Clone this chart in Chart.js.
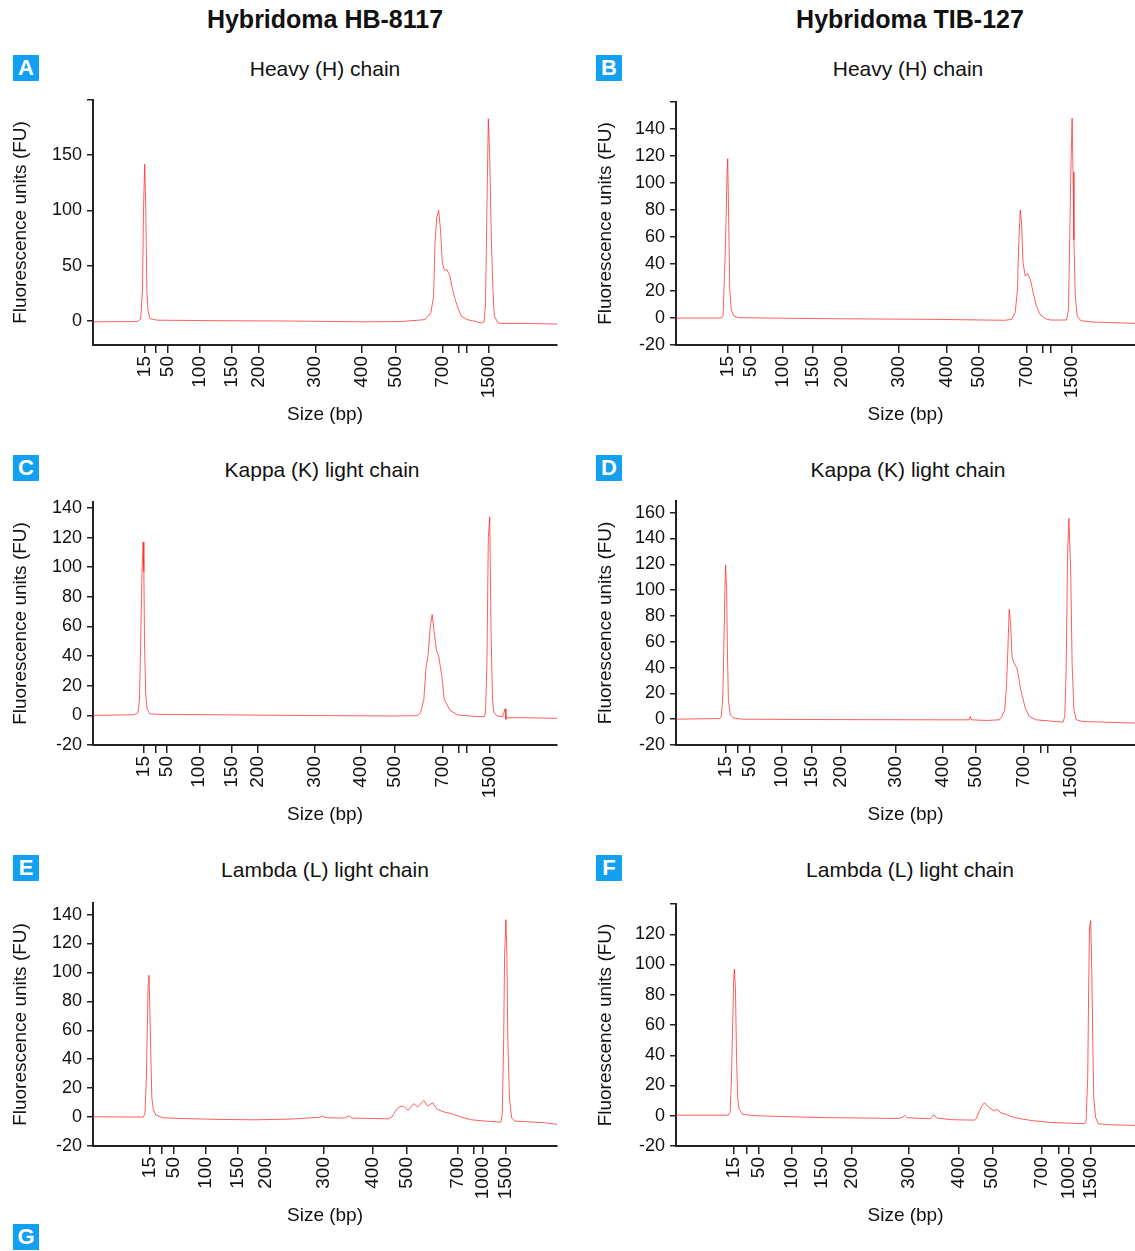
<!DOCTYPE html>
<html>
<head>
<meta charset="utf-8">
<script src="https://cdn.jsdelivr.net/npm/chart.js@4.4.1/dist/chart.umd.min.js"></script>
<style>
  html, body { margin: 0; padding: 0; background: #fff; }
  body { position: relative; width: 1135px; height: 1251px; overflow: hidden;
         font-family: "Liberation Sans", Arial, Helvetica, sans-serif; color: #111; }
  .title { position: absolute; transform: translate(-50%, -50%); font-weight: bold; font-size: 25px; white-space: nowrap; line-height: 1; }
  .sub { position: absolute; transform: translate(-50%, -50%); font-size: 21px; white-space: nowrap; line-height: 1; }
  .badge { position: absolute; width: 26px; height: 26px; background: #14a0f0; color: #fff;
           font-weight: bold; font-size: 22px; line-height: 26px; text-align: center; }
  .panel { position: absolute; }
</style>
</head>
<body>
<div class="title" style="left:325px;top:19px">Hybridoma HB-8117</div>
<div class="title" style="left:910px;top:19px">Hybridoma TIB-127</div>

<div class="badge" style="left:13px;top:55px">A</div>
<div class="badge" style="left:596px;top:55px">B</div>
<div class="badge" style="left:13px;top:455px">C</div>
<div class="badge" style="left:596px;top:455px">D</div>
<div class="badge" style="left:13px;top:855px">E</div>
<div class="badge" style="left:596px;top:855px">F</div>
<div class="badge" style="left:13px;top:1224px">G</div>

<div class="sub" style="left:325px;top:68px">Heavy (H) chain</div>
<div class="sub" style="left:908px;top:68px">Heavy (H) chain</div>
<div class="sub" style="left:322px;top:469px">Kappa (K) light chain</div>
<div class="sub" style="left:908px;top:469px">Kappa (K) light chain</div>
<div class="sub" style="left:325px;top:869px">Lambda (L) light chain</div>
<div class="sub" style="left:910px;top:869px">Lambda (L) light chain</div>

<script>
// ---------- DATA ----------
// DNA ladder sizes (bp) and their labels on the size axis
const ladderBp = [15, 25, 50, 100, 150, 200, 300, 400, 500, 700, 850, 1000, 1500];
const bpLabelsHK = ['15', '', '50', '100', '150', '200', '300', '400', '500', '700', '', '', '1500'];
const bpLabelsL  = ['15', '', '50', '100', '150', '200', '300', '400', '500', '700', '', '1000', '1500'];

// Relative migration time of each ladder band, per run (axis spans 0..100)
const ladderTimeA = [11.1, 13.6, 16.1, 23.0, 29.8, 35.8, 47.9, 58.0, 65.2, 75.3, 78.9, 80.6, 85.3];
const ladderTimeB = [11.27, 13.9, 16.36, 23.2, 29.9, 36.1, 48.5, 58.9, 66.0, 76.5, 79.9, 81.6, 86.3];
const ladderTimeC = [10.96, 13.6, 16.0, 22.9, 29.8, 35.6, 47.8, 57.7, 65.0, 75.3, 78.9, 80.6, 85.5];
const ladderTimeD = [10.8, 13.5, 16.05, 23.0, 29.55, 35.9, 47.9, 58.1, 65.4, 75.7, 79.5, 81.1, 85.9];
const ladderTimeE = [12.2, 14.9, 17.45, 24.3, 31.1, 37.2, 49.8, 60.3, 67.7, 78.7, 82.0, 84.1, 89.0];
const ladderTimeF = [12.65, 15.5, 18.1, 25.3, 31.8, 38.3, 50.8, 61.6, 68.9, 79.7, 83.3, 85.5, 90.3];

// A: HB-8117 heavy chain
const timeA = [0, 9.5, 10.28, 10.67, 10.9, 11.14, 11.37, 11.61, 11.84, 12.23, 13.8, 27.1, 42.7, 58.3, 66.2,
  71.6, 72.8, 73.4, 73.7, 74.1, 74.5, 74.9, 75.3, 75.7, 76.3, 76.9, 77.5, 78.0, 78.7, 79.4, 80.6, 81.8,
  83.7, 84.3, 84.6, 84.9, 85.2, 85.5, 85.85, 86.2, 86.5, 87.3, 88.0, 93.5, 100];
const fuA = [-1, -0.8, 1.5, 28, 103, 142, 103, 28, 10, 2, 0.5, 0, -0.3, -1, -0.8,
  1, 7, 22, 70, 94, 100, 82, 52, 46, 46, 41, 28, 20, 11, 4, 1, 0,
  -2, -1, 16, 103, 183, 148, 73, 28, 4, -2, -2.4, -2.5, -3];

// B: TIB-127 heavy chain
const timeB = [0, 9.9, 10.26, 10.65, 10.88, 11.11, 11.27, 11.5, 11.73, 12.04, 12.58, 13.73, 33.0, 56.2, 71.6,
  73.1, 73.9, 74.4, 74.7, 75.0, 75.3, 75.6, 76.1, 76.6, 77.2, 77.8, 78.5, 79.3, 80.5, 81.6,
  85.1, 85.5, 85.8, 86.0, 86.3, 86.5, 86.7, 87.0, 87.4, 88.2, 90.9, 100];
const fuB = [0, 0, 1.5, 41, 68, 105, 118, 68, 20, 6, 1.5, 0.2, -0.5, -1, -1.7,
  -1, 4, 21, 58, 80, 70, 41, 31, 33, 28.5, 19, 9, 2.7, -0.5, -1.5,
  -1.5, 6, 63, 105, 148, 108, 58, 16, 1.5, -2, -3, -4];

// C: HB-8117 kappa light chain
const timeC = [0, 8.77, 9.71, 10.02, 10.34, 10.57, 10.81, 10.96, 11.12, 11.35, 11.67, 12.29, 14.25, 34.6, 50.3, 65.9, 69.85,
  70.6, 71.3, 71.8, 72.2, 72.7, 73.1, 73.5, 74.0, 74.5, 75.2, 75.7, 76.9, 78.5, 80.8, 84.3,
  84.6, 84.9, 85.2, 85.5, 85.8, 86.1, 86.4, 87.1, 88.3, 88.8, 89.0, 89.4, 93.3, 100];
const fuC = [0, 0.4, 1.8, 10.7, 60, 97, 117, 97, 46, 15, 4, 1, 0.7, 0.2, -0.2, -0.4, -0.2,
  1.8, 10.7, 33, 40, 60, 68, 57, 44, 40, 26, 10.7, 3.6, 0.4, -0.4, -0.9,
  1.8, 35, 120, 134, 53, 10.7, 1.8, -0.4, -0.9, 4.4, -2.7, -1.6, -1.6, -2];

// D: TIB-127 kappa light chain
const timeD = [0, 9.5, 9.88, 10.19, 10.42, 10.65, 10.8, 11.03, 11.19, 11.42, 11.81, 12.58, 14.5, 33.0, 56.2, 63.9, 64.1, 64.4, 67.7, 70.4,
  71.0, 71.6, 72.0, 72.3, 72.6, 72.9, 73.2, 73.7, 74.3, 75.1, 76.1, 77.0, 78.5, 84.3,
  84.7, 85.0, 85.3, 85.6, 86.0, 86.3, 86.7, 87.2, 88.6, 100];
const fuD = [0, 0.5, 2, 17.5, 54, 100, 119.5, 100, 54, 15, 3.4, 0.8, 0, -0.3, -0.5, -0.5, 2, -0.5, -1, -0.5,
  2, 7, 25, 54, 85, 74, 48.5, 43, 39.5, 22.7, 8.5, 2, -0.5, -2.3,
  2, 38, 126, 155.6, 113, 43, 7, -0.5, -1.8, -3];

// E: HB-8117 lambda light chain
const timeE = [0, 10.8, 11.19, 11.5, 11.74, 11.89, 12.05, 12.21, 12.44, 12.68, 12.99, 13.54, 15.1, 19.0, 26.8, 34.7, 42.5,
  48.7, 49.5, 50.3, 54.2, 55.2, 55.8, 63.6, 64.4, 65.2, 66.0, 66.9, 67.9, 69.1, 70.0, 71.3, 72.1, 73.2, 74.2,
  75.7, 77.3, 79.3, 81.6, 84.7, 87.9, 88.2, 88.5, 88.7, 89.0, 89.2, 89.4, 89.75, 90.2, 91.0, 93.3, 97.3, 100];
const fuE = [0.2, 0, 2.3, 27, 69, 92, 98, 81, 46, 13.5, 5.3, 1.4, -0.5, -1, -1.6, -1.9, -1.4,
  -0.2, 0.5, -0.5, -0.7, 0.9, -0.7, -1.2, 0, 4.2, 7, 7.7, 4.6, 9.3, 7, 11.6, 7.7, 9.8, 5.3,
  3.5, 2.3, 0, -1.9, -2.8, -3.5, 1.9, 50.6, 111, 136.5, 111, 53, 13.5, -0.5, -2.8, -3.2, -3.9, -5];

// F: TIB-127 lambda light chain
const timeF = [0, 11.4, 11.8, 12.1, 12.35, 12.58, 12.73, 12.96, 13.19, 13.43, 13.73, 14.5, 17.6, 25.3, 33.0, 40.7, 48.5,
  49.4, 49.8, 50.4, 55.4, 56.2, 56.8, 60.0, 65.0, 65.4, 66.0, 66.6, 67.2, 68.1, 69.1, 70.1, 70.8, 72.0, 72.8,
  74.7, 77.8, 81.6, 89.0, 89.35, 89.7, 89.9, 90.1, 90.35, 90.6, 90.8, 91.0, 91.4, 92.0, 94.75, 100];
const fuF = [0.4, 0.4, 2.4, 25.6, 61, 92, 97, 83, 39, 12.4, 4.6, 0.9, 0, -0.7, -1.3, -1.5, -1.8,
  -1, 0.2, -1.3, -2, 0.7, -1.5, -2.6, -2.9, -2, 2.4, 6.2, 8.6, 5.7, 3.5, 4, 1.8, 0.9, -0.4,
  -1.8, -3.3, -4.4, -5.3, -3, 25.6, 83, 125, 129, 94, 50, 12.4, -0.9, -5.3, -6, -6.4];

// Fluorescence axis ticks
const yTicksA = [0, 50, 100, 150, 200];
const yLabelsA = ['0', '50', '100', '150', ''];
const yTicksB = [-20, 0, 20, 40, 60, 80, 100, 120, 140, 160];
const yLabelsB = ['-20', '0', '20', '40', '60', '80', '100', '120', '140', ''];
const yTicksC = [-20, 0, 20, 40, 60, 80, 100, 120, 140];
const yLabelsC = ['-20', '0', '20', '40', '60', '80', '100', '120', '140'];
const yTicksD = [-20, 0, 20, 40, 60, 80, 100, 120, 140, 160];
const yLabelsD = ['-20', '0', '20', '40', '60', '80', '100', '120', '140', '160'];
const yTicksE = [-20, 0, 20, 40, 60, 80, 100, 120, 140];
const yLabelsE = ['-20', '0', '20', '40', '60', '80', '100', '120', '140'];
const yTicksF = [-20, 0, 20, 40, 60, 80, 100, 120, 140];
const yLabelsF = ['-20', '0', '20', '40', '60', '80', '100', '120', ''];

// ---------- LAYOUT ----------
Chart.defaults.font.family = '"Liberation Sans", Arial, Helvetica, sans-serif';
Chart.defaults.color = '#111';

const panels = [
  { left: 0,   width: 570, plotLeft: 93,  plotRight: 557,  plotTop: 100, plotBottom: 345,  yMin: -22, yMax: 200,
    time: timeA, fu: fuA, ladder: ladderTimeA, bpLabels: bpLabelsHK, yTicks: yTicksA, yLabels: yLabelsA },
  { left: 585, width: 550, plotLeft: 676, plotRight: 1135, plotTop: 102, plotBottom: 345,  yMin: -20, yMax: 160,
    time: timeB, fu: fuB, ladder: ladderTimeB, bpLabels: bpLabelsHK, yTicks: yTicksB, yLabels: yLabelsB },
  { left: 0,   width: 570, plotLeft: 93,  plotRight: 557,  plotTop: 502, plotBottom: 745,  yMin: -20, yMax: 144,
    time: timeC, fu: fuC, ladder: ladderTimeC, bpLabels: bpLabelsHK, yTicks: yTicksC, yLabels: yLabelsC },
  { left: 585, width: 550, plotLeft: 676, plotRight: 1135, plotTop: 501, plotBottom: 745,  yMin: -20, yMax: 169,
    time: timeD, fu: fuD, ladder: ladderTimeD, bpLabels: bpLabelsHK, yTicks: yTicksD, yLabels: yLabelsD },
  { left: 0,   width: 570, plotLeft: 93,  plotRight: 557,  plotTop: 903, plotBottom: 1146, yMin: -20, yMax: 148,
    time: timeE, fu: fuE, ladder: ladderTimeE, bpLabels: bpLabelsL, yTicks: yTicksE, yLabels: yLabelsE },
  { left: 585, width: 550, plotLeft: 676, plotRight: 1135, plotTop: 904, plotBottom: 1146, yMin: -20, yMax: 140,
    time: timeF, fu: fuF, ladder: ladderTimeF, bpLabels: bpLabelsL, yTicks: yTicksF, yLabels: yLabelsF }
];

const PAD_TOP = 20, XAXIS_H = 95;

panels.forEach(p => {
  const cTop = p.plotTop - PAD_TOP;
  const cH = p.plotBottom + XAXIS_H - cTop;
  const wrap = document.createElement('div');
  wrap.className = 'panel';
  wrap.style.left = p.left + 'px';
  wrap.style.top = cTop + 'px';
  wrap.style.width = p.width + 'px';
  wrap.style.height = cH + 'px';
  const cv = document.createElement('canvas');
  cv.width = p.width; cv.height = cH;
  cv.style.width = p.width + 'px'; cv.style.height = cH + 'px';
  wrap.appendChild(cv);
  document.body.appendChild(wrap);

  new Chart(cv, {
    type: 'line',
    data: {
      datasets: [{
        data: p.time.map((t, i) => ({ x: t, y: p.fu[i] })),
        borderColor: 'rgba(255, 30, 30, 0.72)',
        borderWidth: 1,
        pointRadius: 0,
        tension: 0,
        fill: false
      }]
    },
    options: {
      responsive: false,
      animation: false,
      devicePixelRatio: 1,
      layout: { padding: { top: PAD_TOP, right: p.left + p.width - p.plotRight, left: 0, bottom: 0 } },
      plugins: { legend: { display: false }, tooltip: { enabled: false } },
      scales: {
        x: {
          type: 'linear', min: 0, max: 100,
          afterBuildTicks: s => { s.ticks = p.ladder.map(v => ({ value: v })); },
          afterFit: s => { s.height = XAXIS_H; },
          ticks: { autoSkip: false, maxRotation: 90, minRotation: 90, padding: 3, color: '#111',
                   font: { size: 19 }, callback: (v, i) => p.bpLabels[i] },
          grid: { drawOnChartArea: false, drawTicks: true, tickLength: 8, color: '#222', lineWidth: 1.5 },
          border: { display: true, color: '#222', width: 2 },
          title: { display: true, text: 'Size (bp)', color: '#111', font: { size: 19 }, padding: { top: 0, bottom: 14 } }
        },
        y: {
          type: 'linear', min: p.yMin, max: p.yMax,
          afterBuildTicks: s => { s.ticks = p.yTicks.map(v => ({ value: v })); },
          afterFit: s => { s.width = p.plotLeft - p.left; },
          ticks: { padding: 5, color: '#111', font: { size: 18 }, callback: (v, i) => p.yLabels[i] },
          grid: { drawOnChartArea: false, drawTicks: true, tickLength: 6, color: '#222', lineWidth: 1.5 },
          border: { display: true, color: '#222', width: 2 },
          title: { display: true, text: 'Fluorescence units (FU)', color: '#111', font: { size: 19 }, padding: { top: 9, bottom: 0 } }
        }
      }
    }
  });
});
</script>
</body>
</html>
